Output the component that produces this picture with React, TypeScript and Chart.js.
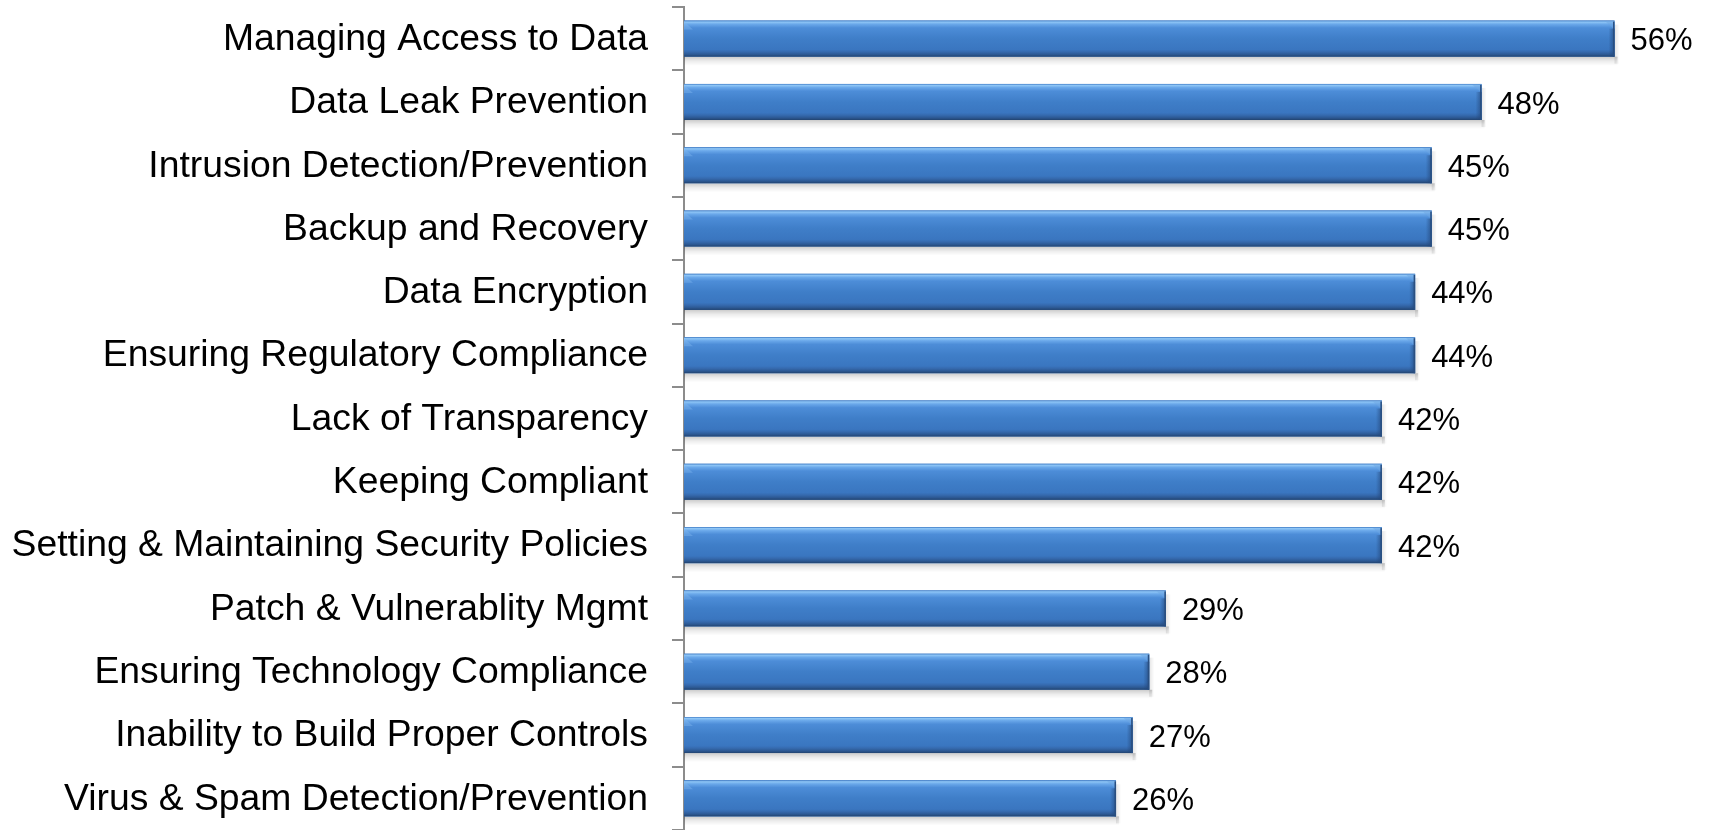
import React, { useEffect, useRef } from "react";
import { Chart, registerables } from "chart.js";

Chart.register(...registerables);

const categories: string[] = [
  "Managing Access to Data",
  "Data Leak Prevention",
  "Intrusion Detection/Prevention",
  "Backup and Recovery",
  "Data Encryption",
  "Ensuring Regulatory Compliance",
  "Lack of Transparency",
  "Keeping Compliant",
  "Setting & Maintaining Security Policies",
  "Patch & Vulnerablity Mgmt",
  "Ensuring Technology Compliance",
  "Inability to Build Proper Controls",
  "Virus & Spam Detection/Prevention",
];

const values: number[] = [56, 48, 45, 45, 44, 44, 42, 42, 42, 29, 28, 27, 26];

const xMin = 0;
const xMax = 60;

const FONT = "'Liberation Sans', Arial, Helvetica, sans-serif";

const bevelPlugin = {
  id: "bevelBars",
  beforeDatasetsDraw(chart: any) {
    const ctx = chart.ctx as CanvasRenderingContext2D;
    const meta = chart.getDatasetMeta(0);
    meta.data.forEach((el: any) => {
      const top = el.y - el.height / 2;
      const bottom = el.y + el.height / 2;
      const left = Math.min(el.base, el.x);
      const right = Math.max(el.base, el.x);
      ctx.save();
      const g = ctx.createLinearGradient(0, bottom, 0, bottom + 9);
      g.addColorStop(0, "rgba(0,0,0,0.2)");
      g.addColorStop(0.5, "rgba(0,0,0,0.07)");
      g.addColorStop(1, "rgba(0,0,0,0)");
      ctx.fillStyle = g;
      ctx.fillRect(left, bottom, right - left + 3, 9);
      const g2 = ctx.createLinearGradient(right, 0, right + 5, 0);
      g2.addColorStop(0, "rgba(0,0,0,0.1)");
      g2.addColorStop(1, "rgba(0,0,0,0)");
      ctx.fillStyle = g2;
      ctx.fillRect(right, top + 4, 5, bottom - top + 3);
      ctx.restore();
    });
  },
  afterDatasetsDraw(chart: any) {
    const ctx = chart.ctx as CanvasRenderingContext2D;
    const meta = chart.getDatasetMeta(0);
    meta.data.forEach((el: any, i: number) => {
      const h = el.height;
      const top = el.y - h / 2;
      const bottom = el.y + h / 2;
      const left = Math.min(el.base, el.x);
      const right = Math.max(el.base, el.x);
      const w = right - left;
      ctx.save();
      const g = ctx.createLinearGradient(0, top, 0, bottom);
      g.addColorStop(0, "#3f7cc6");
      g.addColorStop(0.04, "#8fc6f6");
      g.addColorStop(0.1, "#6aa8ea");
      g.addColorStop(0.2, "#4d8dd8");
      g.addColorStop(0.5, "#3f7ec8");
      g.addColorStop(0.8, "#3a76c0");
      g.addColorStop(0.87, "#3569ad");
      g.addColorStop(0.94, "#2c5892");
      g.addColorStop(1, "#22436f");
      ctx.fillStyle = g;
      ctx.fillRect(left, top, w, h);
      const b = 9;
      // left bevel
      ctx.fillStyle = "rgba(130,185,240,0.4)";
      ctx.beginPath();
      ctx.moveTo(left, top + 1);
      ctx.lineTo(left + b, top + b);
      ctx.lineTo(left, top + b);
      ctx.closePath();
      ctx.fill();
      // right bevel
      ctx.fillStyle = "rgba(110,165,225,0.5)";
      ctx.beginPath();
      ctx.moveTo(right - b, top + 1);
      ctx.lineTo(right, top + 1);
      ctx.lineTo(right, top + b);
      ctx.closePath();
      ctx.fill();
      const g3 = ctx.createLinearGradient(right - 6, 0, right, 0);
      g3.addColorStop(0, "rgba(35,70,120,0)");
      g3.addColorStop(1, "rgba(35,70,120,0.7)");
      ctx.fillStyle = g3;
      ctx.beginPath();
      ctx.moveTo(right - 6, top + b - 1);
      ctx.lineTo(right, top + b - 1);
      ctx.lineTo(right, bottom);
      ctx.lineTo(right - 6, bottom);
      ctx.closePath();
      ctx.fill();
      ctx.fillStyle = "#2a4f80";
      ctx.fillRect(right - 1.5, top + 1, 1.5, h - 1);
      // value label
      ctx.fillStyle = "#000";
      ctx.font = `31px ${FONT}`;
      ctx.textAlign = "left";
      ctx.textBaseline = "middle";
      ctx.fillText(`${values[i]}%`, right + 16, el.y + 3);
      ctx.restore();
    });
  },
};

export default function App() {
  const ref = useRef<HTMLCanvasElement | null>(null);
  useEffect(() => {
    document.body.style.margin = "0";
    const canvas = ref.current!;
    const chart = new Chart(canvas, {
      type: "bar",
      data: {
        labels: categories,
        datasets: [
          {
            data: values,
            backgroundColor: "#3e7dc8",
            borderWidth: 0,
            barPercentage: 0.57,
            categoryPercentage: 1,
          },
        ],
      },
      options: {
        indexAxis: "y",
        responsive: false,
        animation: false,
        devicePixelRatio: 1,
        layout: { padding: { top: 7, bottom: 0, left: 0, right: 33 } },
        plugins: {
          legend: { display: false },
          tooltip: { enabled: false },
          title: { display: false },
        },
        scales: {
          x: {
            display: false,
            min: xMin,
            max: xMax,
          },
          y: {
            afterFit: (scale: any) => {
              scale.width = 684;
              scale.paddingTop = 0;
              scale.paddingBottom = 0;
            },
            grid: {
              display: true,
              drawOnChartArea: false,
              drawTicks: true,
              tickLength: 12,
              color: "#8c8c8c",
              lineWidth: 2,
              offset: true,
            },
            border: { display: true, color: "#8c8c8c", width: 2 },
            ticks: {
              color: "#000",
              padding: 24,
              labelOffset: 1,
              font: { family: FONT, size: 37.3 },
              autoSkip: false,
            },
          },
        },
      },
      plugins: [bevelPlugin],
    });
    return () => chart.destroy();
  }, []);
  return (
    <div
      style={{
        position: "fixed",
        left: 0,
        top: 0,
        width: 1714,
        height: 830,
        background: "#fff",
      }}
    >
      <canvas ref={ref} width={1714} height={830} style={{ width: 1714, height: 830 }} />
    </div>
  );
}
